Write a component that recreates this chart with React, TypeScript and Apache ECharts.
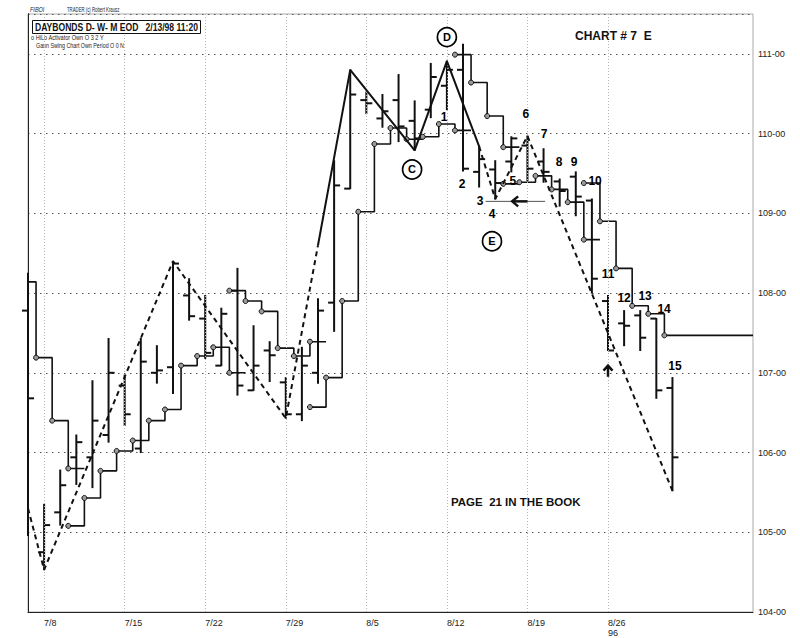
import React, { useEffect, useRef } from "react";
import * as echarts from "echarts";

// ---- trading days (x categories, index = position on the time axis)
const dates = [
  "7/5", "7/8", "7/9", "7/10", "7/11", "7/12", "7/15", "7/16", "7/17", "7/18", "7/19",
  "7/22", "7/23", "7/24", "7/25", "7/26", "7/29", "7/30", "7/31", "8/1", "8/2",
  "8/5", "8/6", "8/7", "8/8", "8/9", "8/12", "8/13", "8/14", "8/15", "8/16",
  "8/19", "8/20", "8/21", "8/22", "8/23", "8/26", "8/27", "8/28", "8/29", "8/30",
];
const tickLabels = ["7/8", "7/15", "7/22", "7/29", "8/5", "8/12", "8/19", "8/26"];
const yearLabel = "96";

// ---- OHLC bars
const opens = [
  107.78, 104.75, 105.25, 105.94, 105.94, 106.22, 106.84, 106.05, 107.0, 107.07, 107.97,
  107.68, 107.09, 108.03, 106.78, 107.28, 106.88, 106.48, 107.0, 107.88, 109.31,
  110.42, 110.19, 110.42, 110.16, 110.3, 110.6, 110.8, 109.52, 109.55, 109.65,
  109.85, 109.65, 109.4, 109.46, 109.16, 107.9, 107.62, 107.72, 107.68, 106.81,
];
const highs = [
  108.25, 105.35, 105.78, 106.22, 106.9, 107.43, 106.97, 107.43, 107.34, 108.39, 108.18,
  107.97, 107.81, 108.31, 107.59, 107.39, 106.94, 107.32, 107.93, 109.66, 110.8,
  110.52, 110.49, 110.74, 110.41, 110.88, 110.91, 111.12, 109.84, 109.66, 109.96,
  109.97, 109.81, 109.43, 109.52, 109.18, 107.97, 107.78, 107.78, 107.68, 106.94,
];
const lows = [
  104.96, 104.53, 105.09, 105.6, 105.56, 106.13, 106.34, 106.0, 106.87, 106.74, 107.66,
  107.18, 107.09, 106.72, 106.78, 106.89, 106.43, 106.4, 106.87, 107.52, 109.31,
  110.25, 110.08, 109.9, 109.79, 110.2, 110.3, 109.53, 109.33, 109.18, 109.52,
  109.41, 109.39, 109.09, 108.97, 108.0, 107.28, 107.34, 107.28, 106.68, 105.52,
];
const closes = [
  106.68, 105.09, 105.59, 106.13, 106.4, 107.0, 106.48, 107.14, 107.03, 108.37, 107.71,
  107.25, 107.74, 106.84, 107.09, 107.22, 106.48, 107.09, 107.78, 109.35, 110.49,
  110.38, 110.28, 110.09, 109.94, 110.71, 110.8, 109.56, 109.68, 109.38, 109.94,
  109.56, 109.52, 109.28, 109.21, 108.18, 107.28, 107.59, 107.44, 106.78, 105.94,
];

// ---- HiLo activator steps [x, value]
const hiloUpper1 = [[0, 108.14], [0.5, 107.19], [1.5, 106.4], [2.5, 105.8], [3.5, 105.8]];
const hiloLower1 = [[2.5, 105.08], [3.5, 105.43], [4.5, 105.77], [5.5, 106.02], [6.5, 106.15], [7.5, 106.4], [8.5, 106.54], [9.5, 107.09], [10.5, 107.21], [11.5, 107.32], [12.5, 107.0], [13.5, 107.0]];
const hiloUpper2 = [[12.5, 108.03], [13.5, 107.9], [14.5, 107.77], [15.5, 107.31], [16.5, 107.21], [17.5, 107.39], [18.5, 107.39]];
const hiloLower2 = [[17.5, 106.57], [18.5, 106.94], [19.5, 107.9], [20.5, 109.02], [21.5, 109.87], [22.5, 110.07], [23.5, 109.93], [24.5, 109.96], [25.5, 110.12], [26.5, 110.04], [27.5, 110.04]];
const hiloUpper3 = [[26.5, 110.99], [27.5, 110.64], [28.5, 110.22], [29.5, 109.83], [30.5, 109.83]];
const hiloLower3 = [[29.5, 109.37], [30.5, 109.39], [31.5, 109.47], [32.5, 109.3], [33.5, 109.14], [34.5, 108.67], [35.5, 108.67]];
const hiloUpper4 = [[34.5, 109.38], [35.5, 108.9], [36.5, 108.31], [37.5, 107.84], [38.5, 107.74], [39.5, 107.47], [45, 107.47]];

// ---- Gann swing line
const swingDashed1 = [[0, 105.3], [1, 104.53], [9, 108.4], [16, 106.43], [18, 108.6]];
const swingSolid = [[18, 108.6], [20, 110.8], [24, 109.79], [26, 110.91], [28, 109.84]];
const swingDashed2 = [[28, 109.84], [29, 109.18], [31, 109.97], [40, 105.52]];

// ---- annotations (data coordinates)
const numberNotes = [
  { t: "1", x: 25.82, y: 110.21 }, { t: "2", x: 26.94, y: 109.37 }, { t: "3", x: 28.06, y: 109.15 },
  { t: "4", x: 28.8, y: 108.99 }, { t: "5", x: 30.1, y: 109.4 }, { t: "6", x: 30.9, y: 110.24 },
  { t: "7", x: 32.03, y: 110.0 }, { t: "8", x: 32.96, y: 109.64 }, { t: "9", x: 33.9, y: 109.65 },
  { t: "10", x: 35.2, y: 109.41 }, { t: "11", x: 36.0, y: 108.24 }, { t: "12", x: 37.0, y: 107.94 },
  { t: "13", x: 38.3, y: 107.96 }, { t: "14", x: 39.48, y: 107.8 }, { t: "15", x: 40.16, y: 107.09 },
];
const circledNotes = [
  { t: "D", x: 26.0, y: 111.21 }, { t: "C", x: 23.84, y: 109.55 }, { t: "E", x: 28.8, y: 108.65 },
];
const leftArrow = { y: 109.15, from: 32.1, to: 28.4, tip: 30.05, stemEnd: 31.0 };
const upArrow = { x: 36.0, tip: 107.09, tail: 106.95 };

const FONT = "'Liberation Sans', Arial, Helvetica, sans-serif";
const INK = "#111";

export default function App() {
  const ref = useRef<HTMLDivElement>(null);
  useEffect(() => {
    document.body.style.margin = "0";
    const chart = echarts.init(ref.current!, undefined, { renderer: "svg" });
    const tickIdx = tickLabels.map((t) => dates.indexOf(t));
    const lastTick = tickLabels[tickLabels.length - 1];

    const hiloSeg = (seg: number[][], firstOpen = false) => ({
      type: "line",
      step: "end",
      showAllSymbol: true,
      symbolSize: 5,
      data: seg.map((p, i) => ({
        value: p,
        symbol: i === seg.length - 1 || (firstOpen && i === 0) ? "none" : "circle",
      })),
      lineStyle: { color: INK, width: 1.6 },
      itemStyle: { color: "#9a9a9a", borderColor: INK, borderWidth: 1 },
      z: 3,
      silent: true,
    });

    const noteLabel = (size: number) => ({
      show: true,
      position: "inside",
      formatter: "{b}",
      color: "#000",
      opacity: 1,
      textBorderWidth: 0,
      fontWeight: "bold",
      fontSize: size,
      fontFamily: FONT,
    });

    const option: any = {
      animation: false,
      backgroundColor: "#fff",
      textStyle: { fontFamily: FONT },
      grid: { left: 28, right: 47, top: 14, bottom: 24, show: true, borderColor: "#aaa", borderWidth: 1 },
      xAxis: {
        type: "value",
        min: 0,
        max: 45,
        axisLine: { show: true, onZero: false, lineStyle: { color: "#222", width: 1 } },
        axisTick: { show: false },
        splitLine: { show: false },
        axisLabel: {
          customValues: tickIdx,
          formatter: (v: number) => {
            const d = dates[Math.round(v)];
            if (!tickLabels.includes(d)) return "";
            return d === lastTick ? d + "\n" + yearLabel : d;
          },
          fontSize: 9,
          color: "#222",
          align: "left",
          margin: 6,
          lineHeight: 10,
          fontFamily: FONT,
        },
      },
      yAxis: [
        {
          type: "value",
          position: "right",
          min: 104,
          max: 111.5,
          interval: 1,
          axisLine: { show: true, lineStyle: { color: "#222", width: 1 } },
          axisTick: { show: false },
          axisLabel: {
            formatter: (v: number) => (Number.isInteger(v) ? v + "-00" : ""),
            fontSize: 9,
            color: "#222",
            margin: 5,
            fontFamily: FONT,
          },
          splitLine: { show: true, lineStyle: { color: "#555", width: 1, type: [1.5, 4.5] } },
        },
        {
          type: "value",
          position: "left",
          min: 104,
          max: 111.5,
          interval: 1,
          axisLine: { show: true, lineStyle: { color: "#222", width: 1 } },
          axisTick: { show: false },
          axisLabel: { show: false },
          splitLine: { show: false },
        },
      ],
      series: [
        {
          type: "custom",
          name: "bars",
          data: dates.map((_, i) => [i, opens[i], highs[i], lows[i], closes[i]]),
          encode: { x: 0, y: [1, 2, 3, 4] },
          z: 4,
          silent: true,
          renderItem: (_p: any, api: any) => {
            const x = api.value(0);
            const o = api.coord([x, api.value(1)]);
            const h = api.coord([x, api.value(2)]);
            const l = api.coord([x, api.value(3)]);
            const c = api.coord([x, api.value(4)]);
            const st = { stroke: INK, lineWidth: 2 };
            const t = 6;
            return {
              type: "group",
              children: [
                { type: "line", shape: { x1: h[0], y1: h[1] - 0.5, x2: l[0], y2: l[1] + 0.5 }, style: st },
                { type: "line", shape: { x1: o[0] - t, y1: o[1], x2: o[0], y2: o[1] }, style: st },
                { type: "line", shape: { x1: c[0], y1: c[1], x2: c[0] + t, y2: c[1] }, style: st },
              ],
            };
          },
        },
        hiloSeg(hiloUpper1, true),
        hiloSeg(hiloLower1),
        hiloSeg(hiloUpper2),
        hiloSeg(hiloLower2),
        hiloSeg(hiloUpper3),
        hiloSeg(hiloLower3),
        hiloSeg(hiloUpper4),
        {
          type: "line",
          data: swingDashed1,
          symbol: "none",
          lineStyle: { color: INK, width: 2, type: [5, 4] },
          z: 5,
          silent: true,
          markLine: {
            silent: true,
            symbol: ["none", "none"],
            label: { show: false },
            lineStyle: { color: "#b5b5b5", width: 1, type: [1, 2] },
            data: tickIdx.map((i) => ({ xAxis: i })),
          },
        },
        {
          type: "line",
          data: swingSolid,
          symbol: "none",
          lineStyle: { color: INK, width: 2 },
          z: 5,
          silent: true,
        },
        {
          type: "line",
          data: swingDashed2,
          symbol: "none",
          lineStyle: { color: INK, width: 2, type: [5, 4] },
          z: 5,
          silent: true,
        },
        {
          type: "scatter",
          data: numberNotes.map((n) => ({ value: [n.x, n.y], name: n.t })),
          symbol: "circle",
          symbolSize: 1,
          itemStyle: { color: "rgba(255,255,255,0)", opacity: 1 },
          label: noteLabel(12),
          z: 6,
          silent: true,
        },
        {
          type: "scatter",
          data: circledNotes.map((n) => ({ value: [n.x, n.y], name: n.t })),
          symbol: "circle",
          symbolSize: 19,
          itemStyle: { color: "#fff", borderColor: "#000", borderWidth: 1.7, opacity: 1 },
          label: noteLabel(11),
          z: 6,
          silent: true,
        },
      ],
    };
    chart.setOption(option);

    const px = (x: number, y: number) => chart.convertToPixel({ seriesIndex: 0 }, [x, y]) as number[];
    const la0 = px(leftArrow.from, leftArrow.y);
    const la1 = px(leftArrow.to, leftArrow.y);
    const laTip = px(leftArrow.tip, leftArrow.y);
    const laStem = px(leftArrow.stemEnd, leftArrow.y);
    const uaTip = px(upArrow.x, upArrow.tip);
    const uaTail = px(upArrow.x, upArrow.tail);

    const smallText = (text: string, x: number, y: number, size: number, sx: number, extra: any = {}) => ({
      type: "text",
      x,
      y,
      scaleX: sx,
      silent: true,
      style: { text, fontSize: size, fontFamily: FONT, fill: "#222", verticalAlign: "middle", ...extra },
    });

    chart.setOption({
      graphic: [
        smallText("FIBOI", 30, 10, 6.5, 0.85, { fontStyle: "italic" }),
        smallText("TRADER (c) Robert Krausz", 67, 10, 6.5, 0.66),
        {
          type: "rect",
          silent: true,
          shape: { x: 32.5, y: 20.5, width: 168, height: 13 },
          style: { fill: "#fff", stroke: INK, lineWidth: 1 },
          z: 10,
        },
        { ...smallText("DAYBONDS D- W- M EOD   2/13/98 11:20", 35, 27.5, 11, 0.78, { fontWeight: "bold", fill: INK }), z: 11 },
        smallText("o HiLo Activator Own O 3 2 Y", 31, 37, 7, 0.8),
        smallText("Gann Swing Chart Own Period O 0 N", 36, 45, 7, 0.76),
        smallText("CHART # 7  E", 575, 36, 12, 1, { fontWeight: "bold", fill: INK }),
        smallText("PAGE  21 IN THE BOOK", 451, 502, 11.5, 1, { fontWeight: "bold", fill: INK }),
        {
          type: "line",
          silent: true,
          shape: { x1: la0[0], y1: la0[1], x2: la1[0], y2: la1[1] },
          style: { stroke: "#555", lineWidth: 1 },
          z: 10,
        },
        {
          type: "line",
          silent: true,
          shape: { x1: laTip[0], y1: laTip[1], x2: laStem[0], y2: laStem[1] },
          style: { stroke: INK, lineWidth: 2.5 },
          z: 10,
        },
        {
          type: "polyline",
          silent: true,
          shape: { points: [[laTip[0] + 6, laTip[1] - 5], [laTip[0], laTip[1]], [laTip[0] + 6, laTip[1] + 5]] },
          style: { stroke: INK, lineWidth: 2.5, fill: "none" },
          z: 10,
        },
        {
          type: "line",
          silent: true,
          shape: { x1: uaTip[0], y1: uaTip[1], x2: uaTail[0], y2: uaTail[1] },
          style: { stroke: INK, lineWidth: 2.5 },
          z: 10,
        },
        {
          type: "polyline",
          silent: true,
          shape: { points: [[uaTip[0] - 4.5, uaTip[1] + 5], [uaTip[0], uaTip[1]], [uaTip[0] + 4.5, uaTip[1] + 5]] },
          style: { stroke: INK, lineWidth: 2.5, fill: "none" },
          z: 10,
        },
      ],
    });

    return () => chart.dispose();
  }, []);
  return (
    <div
      ref={ref}
      style={{ position: "absolute", left: 0, top: 0, width: 800, height: 638, background: "#fff" }}
    />
  );
}
